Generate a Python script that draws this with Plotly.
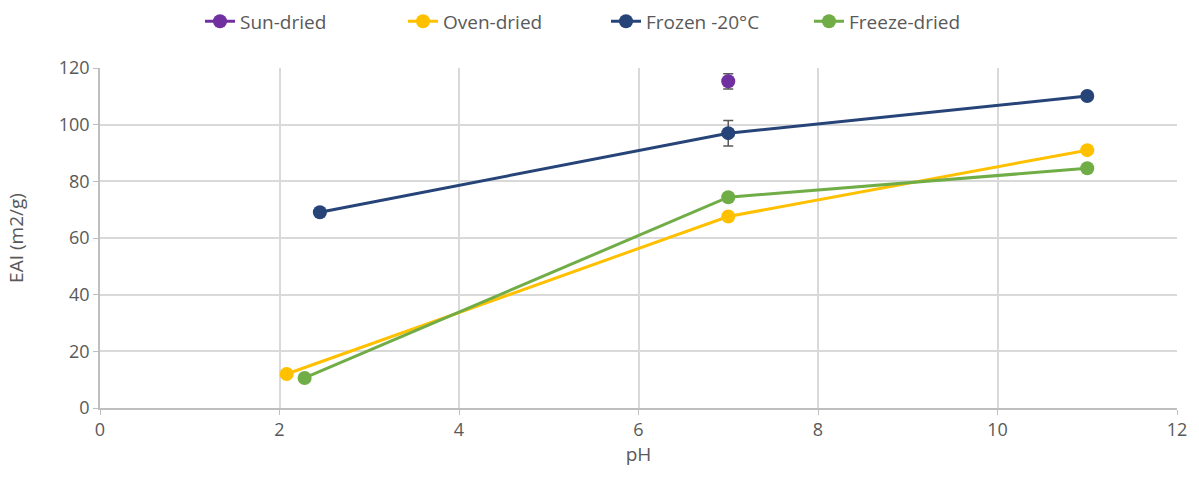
import plotly.graph_objects as go

# Emulsifying activity index versus pH for four drying treatments
sun_ph = [7]
sun_eai = [115.3]
sun_err = [2.7]

oven_ph = [2.08, 7, 11]
oven_eai = [12.0, 67.6, 91.0]

frozen_ph = [2.45, 7, 11]
frozen_eai = [69.1, 97.0, 110.1]
frozen_err = [0, 4.5, 0]

freeze_ph = [2.28, 7, 11]
freeze_eai = [10.6, 74.4, 84.6]

x_ticks = [0, 2, 4, 6, 8, 10, 12]
y_ticks = [0, 20, 40, 60, 80, 100, 120]

FONT = "Open Sans"
GREY_TXT = "#595959"

fig = go.Figure()

def add_series(x, y, name, color, err=None):
    kw = {}
    if err is not None:
        kw["error_y"] = dict(type="data", array=err, visible=True,
                             color="#595959", thickness=1.5, width=5)
    fig.add_trace(go.Scatter(
        x=x, y=y, name=name, mode="lines+markers",
        line=dict(color=color, width=3),
        marker=dict(color=color, size=14),
        **kw,
    ))

add_series(sun_ph, sun_eai, "Sun-dried", "#7030a0", sun_err)
add_series(oven_ph, oven_eai, "Oven-dried", "#ffc000")
add_series(frozen_ph, frozen_eai, "Frozen -20°C", "#264478", frozen_err)
add_series(freeze_ph, freeze_eai, "Freeze-dried", "#70ad47")

axis_common = dict(
    showgrid=True, gridcolor="#d9d9d9", gridwidth=1.5,
    showline=True, linecolor="#bfbfbf", linewidth=1.5,
    ticks="outside", tickcolor="#bfbfbf", ticklen=5,
    tickfont=dict(family=FONT, size=18, color=GREY_TXT),
    zeroline=False,
)

fig.update_layout(
    width=1199, height=492,
    paper_bgcolor="white", plot_bgcolor="white",
    margin=dict(l=100, r=17, t=68, b=84),
    font=dict(family=FONT, color=GREY_TXT),
    legend=dict(orientation="h", x=200 / 1199, xanchor="left", xref="container",
                y=0.995, yanchor="top", yref="container",
                font=dict(family=FONT, size=19, color=GREY_TXT),
                entrywidth=158, entrywidthmode="pixels", tracegroupgap=0),
    xaxis=dict(range=[0, 12], tickvals=x_ticks,
               title=dict(text="pH", font=dict(family=FONT, size=19, color=GREY_TXT), standoff=3),
               **axis_common),
    yaxis=dict(range=[0, 120], tickvals=y_ticks,
               title=dict(text="EAI (m2/g)", font=dict(family=FONT, size=19, color=GREY_TXT), standoff=30),
               **axis_common),
)

fig.write_html("out.html")
